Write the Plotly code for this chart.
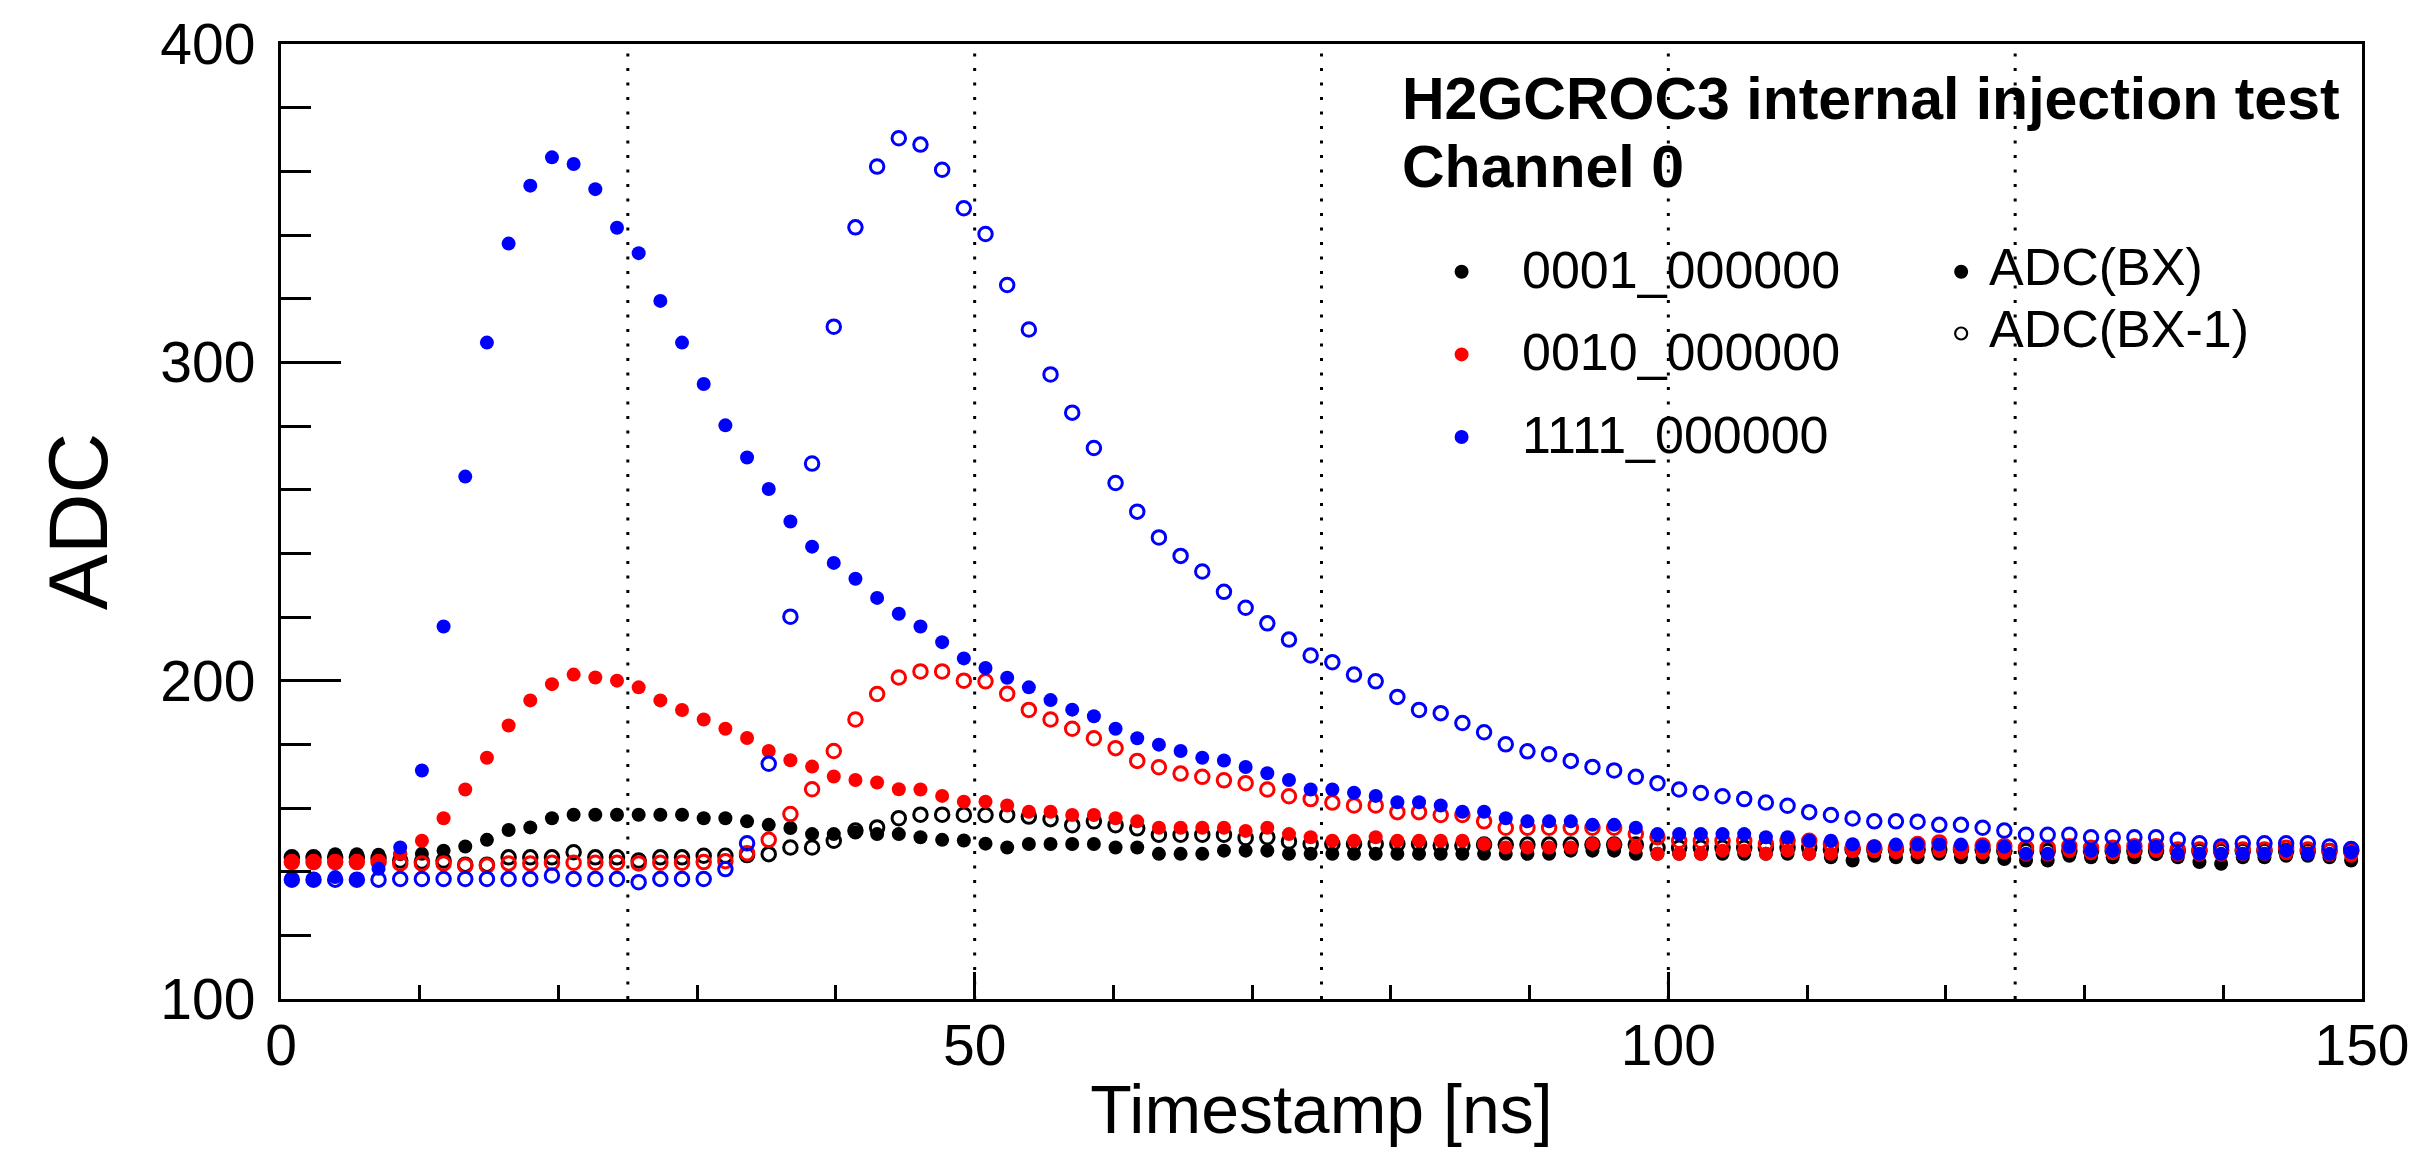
import plotly.graph_objects as go

# ---------------- data ----------------
TIME_STEP_NS = 1.5625
N_POINTS = 96
timestamps = [round((k + 0.5) * TIME_STEP_NS, 5) for k in range(N_POINTS)]

series_names = ["0001_000000", "0010_000000", "1111_000000"]
series_colors = ["#000000", "#ff0000", "#0000ff"]

adc_0001_bx = [
    144.5, 144.5, 145.5, 145.5, 145.3, 145.5, 145.6, 146.6, 147.9, 150.0,
    153.1, 153.9, 156.8, 157.9, 157.9, 157.9, 157.9, 157.9, 157.9, 156.8,
    156.8, 155.8, 154.7, 153.7, 151.8, 151.8, 152.3, 151.8, 151.8, 150.8,
    150.0, 149.8, 148.8, 147.6, 148.7, 148.7, 148.7, 148.7, 147.6, 147.6,
    145.6, 145.6, 145.6, 146.6, 146.6, 146.6, 145.6, 145.6, 145.6, 145.6,
    145.6, 145.6, 145.6, 145.6, 145.6, 145.6, 145.6, 145.6, 145.6, 146.6,
    146.6, 146.6, 145.6, 145.6, 145.6, 145.6, 145.6, 145.6, 145.6, 145.6,
    145.6, 144.5, 143.5, 145.0, 144.5, 144.5, 145.6, 144.5, 144.5, 144.0,
    143.5, 143.5, 145.0, 144.5, 144.5, 144.5, 145.5, 144.5, 143.0, 142.5,
    144.5, 144.5, 145.0, 145.0, 144.5, 143.5,
]
adc_0001_bx1 = [
    144.5, 144.5, 144.5, 144.5, 144.3, 143.5, 143.2, 143.5, 142.2, 142.2,
    144.5, 144.5, 144.5, 146.1, 144.5, 144.5, 143.5, 144.5, 144.5, 145.0,
    145.0, 145.2, 145.5, 147.6, 147.6, 149.7, 152.9, 153.9, 156.8, 157.9,
    157.9, 157.9, 157.8, 157.8, 157.3, 156.5, 154.6, 155.8, 154.6, 153.6,
    151.6, 151.6, 151.6, 151.6, 150.6, 150.8, 149.5, 148.7, 148.7, 148.7,
    148.7, 148.7, 148.7, 148.2, 148.2, 148.5, 148.5, 148.5, 148.5, 148.5,
    148.5, 148.5, 148.5, 147.5, 147.5, 147.5, 147.5, 147.5, 147.5, 147.5,
    147.5, 147.0, 147.0, 147.0, 147.0, 147.0, 147.0, 147.0, 147.0, 146.5,
    146.5, 146.5, 146.5, 146.5, 146.5, 146.5, 146.5, 146.5, 146.5, 146.5,
    146.5, 146.5, 146.5, 146.5, 146.5, 146.5,
]
adc_0010_bx = [
    143.2, 143.2, 143.3, 143.2, 143.3, 145.6, 149.7, 156.8, 165.8, 175.8,
    185.9, 193.8, 198.9, 201.9, 201.0, 200.0, 197.9, 193.8, 190.8, 187.8,
    184.9, 182.0, 177.9, 175.0, 173.0, 169.9, 168.8, 168.0, 165.9, 165.8,
    163.8, 162.0, 162.0, 160.8, 158.8, 158.8, 157.8, 157.8, 156.8, 155.8,
    153.8, 153.8, 153.8, 153.8, 152.8, 153.8, 151.8, 150.8, 149.7, 149.7,
    150.8, 149.7, 149.7, 149.7, 149.7, 148.7, 147.6, 147.6, 147.6, 147.6,
    148.7, 148.7, 147.6, 145.6, 145.6, 145.6, 146.6, 146.6, 145.6, 146.6,
    145.6, 145.6, 146.4, 146.4, 146.1, 146.1, 146.5, 146.1, 146.0, 146.0,
    145.3, 145.3, 146.5, 145.8, 145.8, 146.3, 146.5, 145.3, 145.3, 145.3,
    145.5, 145.5, 145.8, 145.8, 145.3, 145.0,
]
adc_0010_bx1 = [
    143.0, 143.0, 143.0, 143.0, 143.0, 142.6, 142.6, 142.6, 141.9, 141.9,
    142.6, 142.6, 142.8, 142.8, 142.8, 142.8, 142.6, 142.8, 142.8, 143.0,
    143.3, 145.8, 150.0, 158.1, 165.9, 177.9, 187.8, 195.8, 201.0, 202.9,
    202.9, 200.0, 199.8, 195.9, 190.8, 187.8, 184.9, 181.9, 178.8, 174.8,
    172.8, 170.8, 169.8, 168.7, 167.8, 165.8, 163.7, 162.8, 161.7, 160.8,
    160.8, 158.7, 158.7, 157.8, 157.8, 155.8, 153.8, 153.8, 153.8, 153.8,
    153.8, 153.8, 151.8, 150.8, 149.7, 149.7, 149.7, 149.7, 148.7, 149.7,
    149.7, 148.7, 147.6, 147.6, 147.6, 148.7, 149.2, 147.6, 148.2, 148.0,
    147.5, 147.5, 148.0, 147.5, 147.5, 148.0, 148.0, 147.0, 147.0, 147.0,
    147.0, 147.0, 147.5, 147.0, 146.5, 146.5,
]
adc_1111_bx = [
    137.5, 137.5, 138.3, 137.5, 140.9, 147.6, 171.8, 217.0, 264.1, 306.2,
    337.3, 355.5, 364.4, 362.3, 354.4, 342.3, 334.3, 319.3, 306.2, 293.2,
    280.2, 270.1, 260.2, 250.0, 242.1, 237.0, 232.0, 226.0, 221.0, 217.0,
    212.1, 207.0, 204.0, 200.9, 197.9, 193.9, 190.9, 188.8, 184.9, 181.9,
    179.9, 177.9, 175.8, 174.9, 172.9, 170.9, 168.8, 165.8, 165.8, 164.8,
    163.8, 161.8, 161.8, 160.8, 158.8, 158.8, 156.8, 155.8, 155.8, 155.8,
    154.7, 154.7, 153.8, 151.8, 151.8, 151.8, 151.8, 151.8, 150.8, 150.8,
    149.7, 149.7, 148.6, 148.0, 148.5, 148.5, 148.6, 148.5, 148.0, 147.8,
    145.6, 145.6, 147.8, 146.6, 146.6, 147.8, 147.8, 145.6, 145.6, 145.6,
    145.6, 145.6, 146.6, 145.6, 145.6, 146.1,
]
adc_1111_bx1 = [
    137.5, 137.5, 137.5, 137.5, 137.5, 137.7, 137.7, 137.7, 137.7, 137.7,
    137.7, 137.7, 138.8, 137.7, 137.7, 137.7, 136.7, 137.7, 137.7, 137.7,
    140.8, 148.9, 173.9, 220.1, 268.2, 311.2, 342.4, 361.5, 370.4, 368.4,
    360.5, 348.4, 340.3, 324.3, 310.3, 296.2, 284.2, 273.1, 262.1, 253.1,
    245.0, 239.2, 234.3, 227.9, 222.9, 218.0, 212.9, 207.9, 205.8, 201.9,
    199.8, 194.9, 190.8, 189.8, 186.7, 183.8, 180.0, 177.8, 176.9, 174.8,
    172.9, 171.8, 169.8, 167.8, 165.8, 164.7, 163.7, 162.8, 161.7, 160.7,
    158.7, 157.8, 156.7, 155.8, 155.8, 155.7, 154.7, 154.7, 153.8, 152.9,
    151.6, 151.6, 151.6, 150.8, 150.8, 150.8, 150.8, 150.0, 148.9, 147.9,
    148.9, 148.9, 148.9, 148.9, 147.9, 147.1,
]

bx_values = [adc_0001_bx, adc_0010_bx, adc_1111_bx]
bx1_values = [adc_0001_bx1, adc_0010_bx1, adc_1111_bx1]

grid_lines_ns = [25, 50, 75, 100, 125]
title_lines = ["H2GCROC3 internal injection test", "Channel 0"]
type_labels = ["ADC(BX)", "ADC(BX-1)"]

# ---------------- layout geometry (pixels) ----------------
W, H = 2422, 1152
L, R, T, B = 281, 54, 39, 153
PW, PH = W - L - R, H - T - B
FONT = "Liberation Sans, Arial, Helvetica, sans-serif"


def px(xpix):
    return (xpix - L) / PW


def py(ypix):
    return (H - B - ypix) / PH


fig = go.Figure()

for name, color, ybx, ybx1 in zip(series_names, series_colors, bx_values, bx1_values):
    fig.add_trace(go.Scatter(
        x=timestamps, y=ybx, mode="markers", name=name + " ADC(BX)",
        marker=dict(symbol="circle", size=14, color=color, line=dict(width=0)),
        showlegend=False,
    ))
    fig.add_trace(go.Scatter(
        x=timestamps, y=ybx1, mode="markers", name=name + " ADC(BX-1)",
        marker=dict(symbol="circle-open", size=13.5, color=color,
                    line=dict(width=3, color=color)),
        showlegend=False,
    ))

# dotted vertical reference lines
for gx in grid_lines_ns:
    fig.add_shape(type="line", xref="x", yref="paper", x0=gx, x1=gx, y0=0, y1=1,
                  line=dict(color="black", width=3, dash="3px,11.5px"), layer="below")

annotations = []
# title block
annotations.append(dict(text="<b>%s</b>" % title_lines[0], x=px(1403), y=py(94),
                        font=dict(size=59, family=FONT, color="black")))
annotations.append(dict(text="<b>%s</b>" % title_lines[1], x=px(1403), y=py(163),
                        font=dict(size=59, family=FONT, color="black")))
# legend 1 (settings)
leg_rows = [266, 349, 432]
for name, color, ry in zip(series_names, series_colors, leg_rows):
    annotations.append(dict(text=name, x=px(1524), y=py(ry),
                            font=dict(size=52, family=FONT, color="black")))
    fig.add_shape(type="circle", xref="paper", yref="paper",
                  xsizemode="pixel", ysizemode="pixel",
                  xanchor=px(1465), yanchor=py(ry + 2), x0=-7, x1=7, y0=-7, y1=7,
                  fillcolor=color, line=dict(width=0))
# legend 2 (ADC type)
type_rows = [263, 325]
for i, (lab, ry) in enumerate(zip(type_labels, type_rows)):
    annotations.append(dict(text=lab, x=px(1992), y=py(ry),
                            font=dict(size=52, family=FONT, color="black")))
    if i == 0:
        fig.add_shape(type="circle", xref="paper", yref="paper",
                      xsizemode="pixel", ysizemode="pixel",
                      xanchor=px(1966), yanchor=py(ry + 5), x0=-7, x1=7, y0=-7, y1=7,
                      fillcolor="black", line=dict(width=0))
    else:
        fig.add_shape(type="circle", xref="paper", yref="paper",
                      xsizemode="pixel", ysizemode="pixel",
                      xanchor=px(1966), yanchor=py(ry + 5), x0=-6, x1=6, y0=-6, y1=6,
                      fillcolor="rgba(0,0,0,0)", line=dict(width=2.2, color="black"))

for a in annotations:
    a.update(xref="paper", yref="paper", xanchor="left", yanchor="middle",
             showarrow=False, align="left")

fig.update_layout(
    width=W, height=H,
    margin=dict(l=L, r=R, t=T, b=B, pad=0),
    paper_bgcolor="white", plot_bgcolor="white",
    font=dict(family=FONT, color="black"),
    annotations=annotations,
    showlegend=False,
    xaxis=dict(
        range=[0, 150], tickvals=[0, 50, 100, 150], ticktext=["0", "50", "100", "150"],
        ticks="inside", ticklen=27, tickwidth=3, tickcolor="black",
        minor=dict(dtick=10, tick0=0, ticks="inside", ticklen=14, tickwidth=3, tickcolor="black"),
        showline=True, linewidth=3.3, linecolor="black", mirror=True,
        showgrid=False, zeroline=False,
        tickfont=dict(size=57, family=FONT, color="black"),
        ticklabelstandoff=-6,
        title=dict(text="Timestamp [ns]", font=dict(size=68, family=FONT, color="black"),
                   standoff=10),
    ),
    yaxis=dict(
        range=[100, 400], tickvals=[100, 200, 300, 400], ticktext=["100", "200", "300", "400"],
        ticks="inside", ticklen=60, tickwidth=3, tickcolor="black",
        minor=dict(dtick=20, tick0=100, ticks="inside", ticklen=30, tickwidth=3, tickcolor="black"),
        showline=True, linewidth=3.3, linecolor="black", mirror=True,
        showgrid=False, zeroline=False,
        tickfont=dict(size=57, family=FONT, color="black"),
        ticklabelstandoff=11,
        title=dict(text="ADC", font=dict(size=84, family=FONT, color="black"), standoff=25),
    ),
)

fig.write_html("out.html", include_plotlyjs=True, config={"displayModeBar": False},
               post_script="document.body.style.margin='0';document.body.style.overflow='hidden';")
